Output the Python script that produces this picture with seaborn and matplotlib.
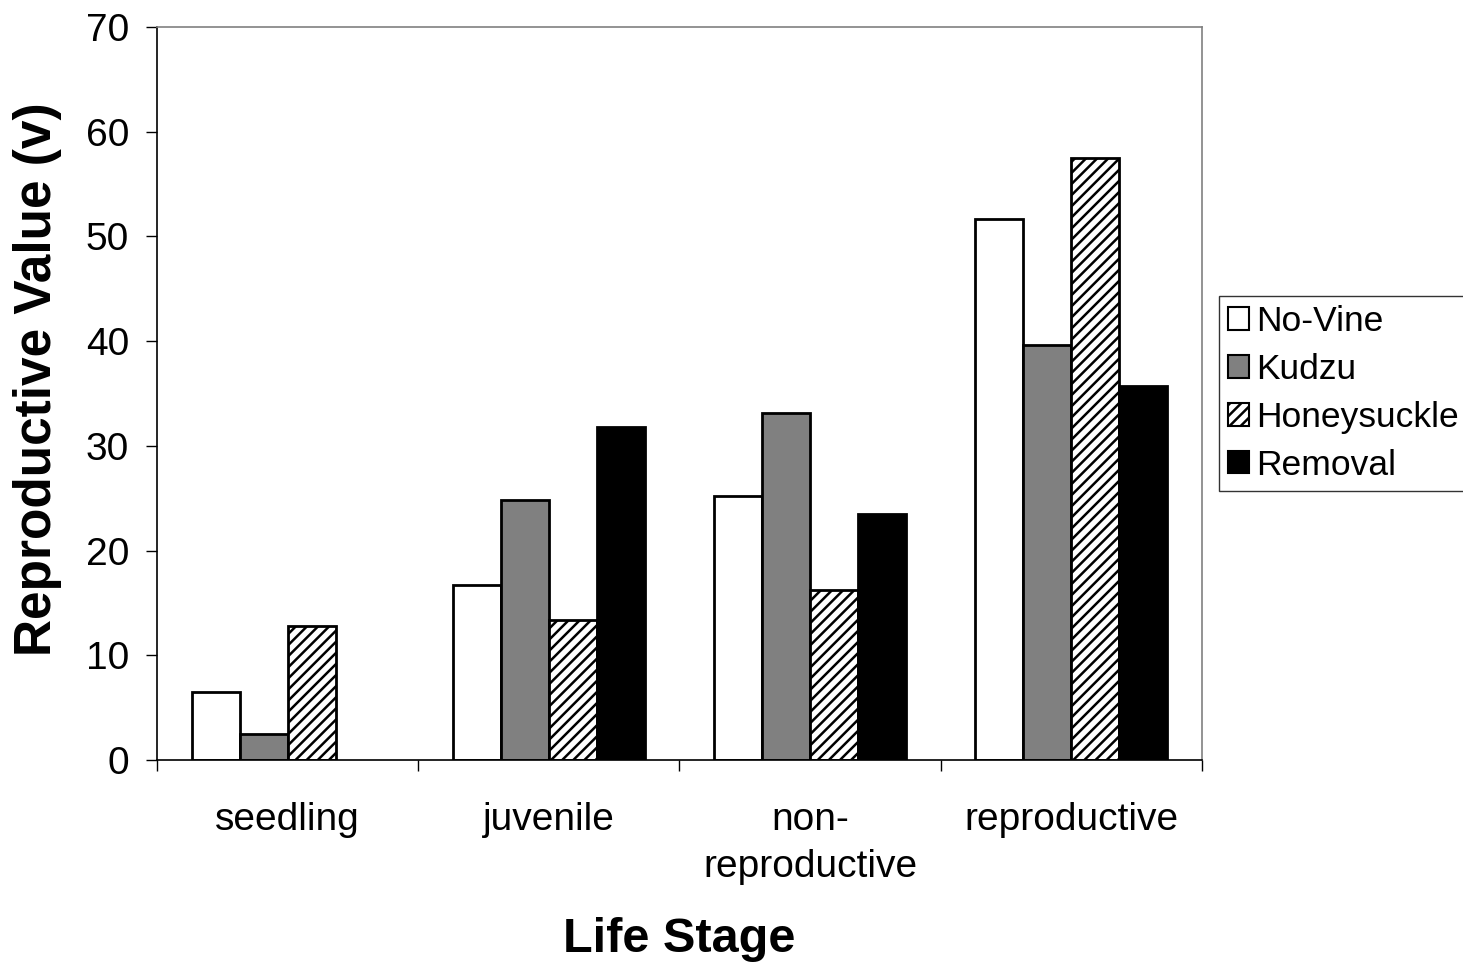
import numpy as np
import pandas as pd
import matplotlib
matplotlib.use("Agg")
import matplotlib.pyplot as plt
import seaborn as sns
from matplotlib.patches import Patch

stages = ["seedling", "juvenile", "non-\nreproductive", "reproductive"]
treatments = ["No-Vine", "Kudzu", "Honeysuckle", "Removal"]
no_vine = [6.5, 16.7, 25.2, 51.7]
kudzu = [2.5, 24.8, 33.1, 39.6]
honeysuckle = [12.8, 13.4, 16.2, 57.5]
removal = [0.0, 31.8, 23.5, 35.7]

fills = {"No-Vine": "white", "Kudzu": "#808080", "Honeysuckle": "white", "Removal": "black"}

rows = []
for name, vals in zip(treatments, [no_vine, kudzu, honeysuckle, removal]):
    for stage, v in zip(stages, vals):
        rows.append({"stage": stage, "treatment": name, "value": v})
df = pd.DataFrame(rows)

sns.set_style("white")
plt.rcParams["font.family"] = ["Liberation Sans", "DejaVu Sans"]
plt.rcParams["text.color"] = "black"
plt.rcParams["axes.labelcolor"] = "black"
plt.rcParams["xtick.color"] = "black"
plt.rcParams["ytick.color"] = "black"
plt.rcParams["hatch.linewidth"] = 1.8

fig = plt.figure(figsize=(14.63, 9.68), dpi=100)
ax = fig.add_axes([0.1073, 0.2149, 0.7143, 0.7572])

sns.barplot(data=df, x="stage", y="value", hue="treatment", order=stages,
            hue_order=treatments, palette=fills, width=0.735,
            edgecolor="black", linewidth=2, saturation=1, ax=ax, legend=False)

for name, cont in zip(treatments, ax.containers):
    for bar in cont:
        if name == "Honeysuckle":
            bar.set_hatch("///")
        if bar.get_height() == 0:
            bar.set_visible(False)

ax.set_xlim(-0.5, 3.5)
ax.set_ylim(0, 70)
ax.set_yticks(np.arange(0, 71, 10))
ax.tick_params(axis="y", labelsize=28, direction="out", length=8, width=1,
               left=True, color="black", pad=12)
ax.tick_params(axis="x", labelsize=28, length=0, pad=30)
ax.set_xticks(range(4))
ax.set_xticklabels(stages, linespacing=1.4)
ax.set_xticks(np.arange(-0.5, 4.0, 1.0), minor=True)
ax.tick_params(axis="x", which="minor", direction="out", length=8, width=1,
               bottom=True, color="black")

for side in ["top", "right"]:
    ax.spines[side].set_color("#808080")
    ax.spines[side].set_linewidth(1.2)
for side in ["left", "bottom"]:
    ax.spines[side].set_color("black")
    ax.spines[side].set_linewidth(1.2)

ax.set_xlabel("Life Stage", fontsize=35, fontweight="bold")
ax.set_ylabel("Reproductive Value (v)", fontsize=37, fontweight="bold")
ax.yaxis.set_label_coords(-0.114, 0.52)
ax.xaxis.set_label_coords(0.5, -0.245)
ax.xaxis.label.set_va("center")
ax.yaxis.label.set_va("center")

handles = [Patch(facecolor=fills[t], edgecolor="black", linewidth=1.5,
                 hatch="///" if t == "Honeysuckle" else None) for t in treatments]
leg = fig.legend(handles, treatments, loc="upper left",
                 bbox_to_anchor=(0.833, 0.694), fontsize=25.5, frameon=True,
                 fancybox=False, shadow=False, handlelength=0.6, handleheight=0.6,
                 handletextpad=0.2, labelspacing=0.42, borderpad=0.25,
                 borderaxespad=0)
leg.get_frame().set_edgecolor("black")
leg.get_frame().set_linewidth(1.0)

fig.savefig("out.png", dpi=100)
